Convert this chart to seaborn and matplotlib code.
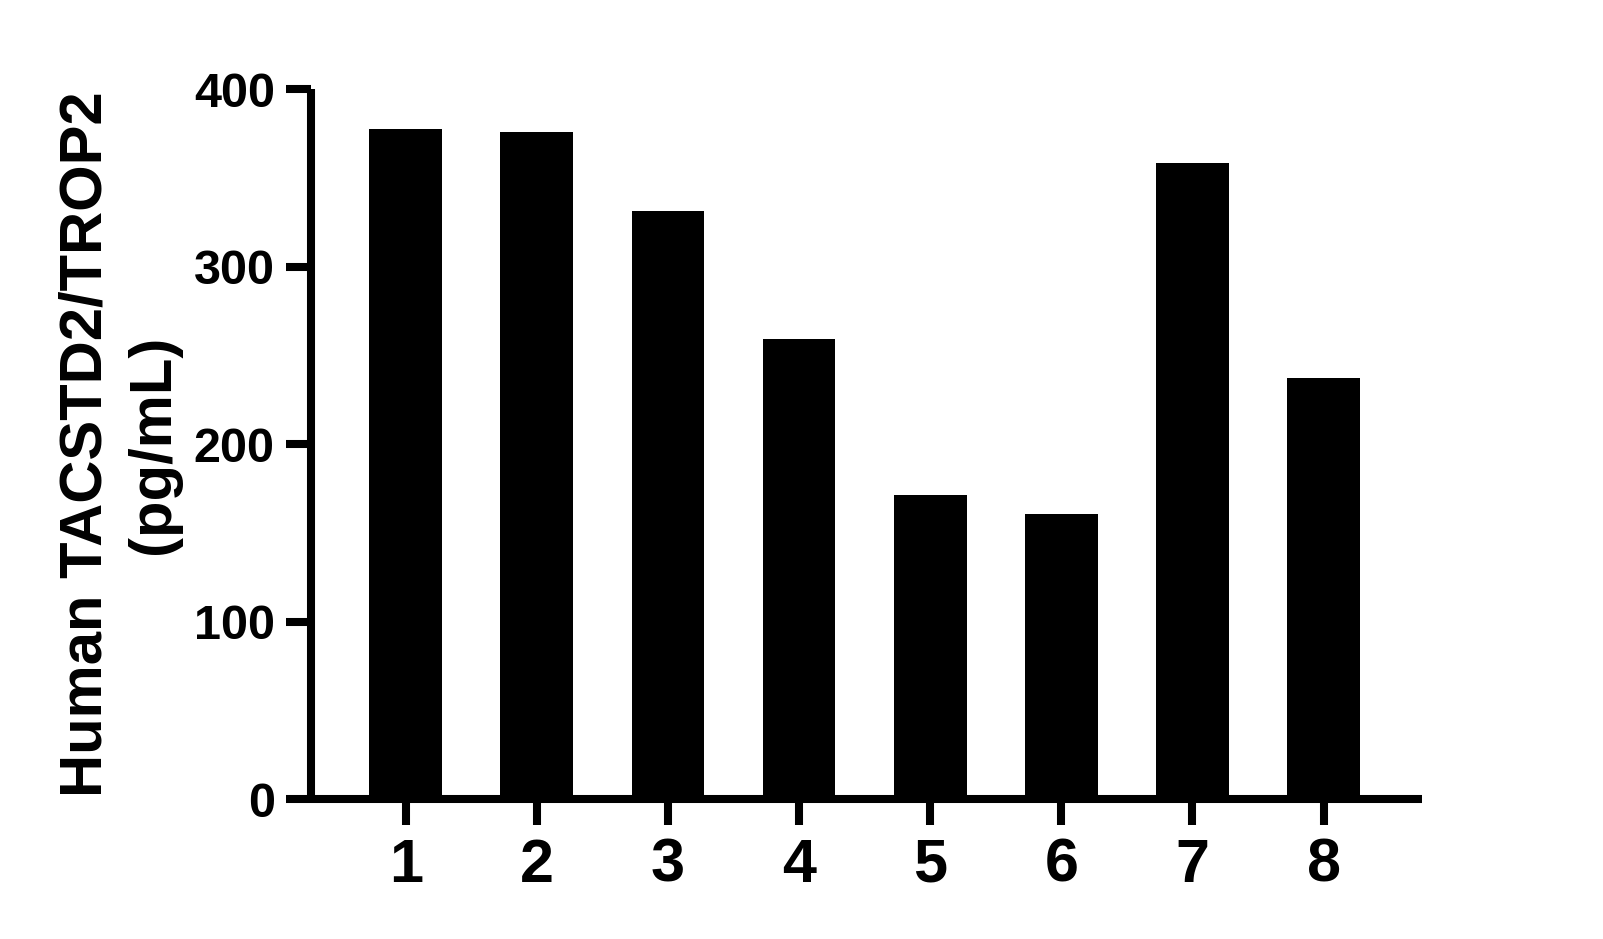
import matplotlib
matplotlib.use("Agg")
import matplotlib.pyplot as plt
import seaborn as sns
import pandas as pd

samples = ["1", "2", "3", "4", "5", "6", "7", "8"]
values = [377.7, 376.0, 331.5, 259.3, 171.4, 160.7, 358.6, 237.4]
yticks = [0, 100, 200, 300, 400]
ylabel = "Human TACSTD2/TROP2\n(pg/mL)"

sns.set_theme(style="ticks")
plt.rcParams["font.family"] = ["Liberation Sans", "DejaVu Sans"]
plt.rcParams["font.weight"] = "bold"

df = pd.DataFrame({"sample": samples, "value": values})

fig = plt.figure(figsize=(16.03, 9.39), dpi=100)
ax = fig.add_axes([0.194, 0.149, 0.693, 0.7557])

sns.barplot(data=df, x="sample", y="value", color="black", saturation=1,
            width=0.555, ax=ax, edgecolor="none")

ax.set_xlim(-0.723, 7.75)
ax.set_ylim(0, 400)
ax.set_yticks(yticks)
ax.set_yticklabels([str(t) for t in yticks])

lw = 5.8
for s in ["top", "right"]:
    ax.spines[s].set_visible(False)
for s in ["left", "bottom"]:
    ax.spines[s].set_linewidth(lw)
    ax.spines[s].set_color("black")
    ax.spines[s].set_capstyle("butt")

ax.tick_params(axis="y", length=18, width=lw, color="black", pad=8,
               labelsize=35, labelcolor="black")
ax.tick_params(axis="x", length=19, width=lw, color="black", pad=9,
               labelsize=44, labelcolor="black")
for lab in ax.get_xticklabels() + ax.get_yticklabels():
    lab.set_fontweight("bold")

ax.set_xlabel("")
ax.set_ylabel(ylabel, fontsize=43, fontweight="bold", linespacing=1.28,
              color="black", multialignment="center")
ax.yaxis.set_label_coords(-0.117, 0.5)

fig.savefig("out.png", dpi=100, facecolor="white")
